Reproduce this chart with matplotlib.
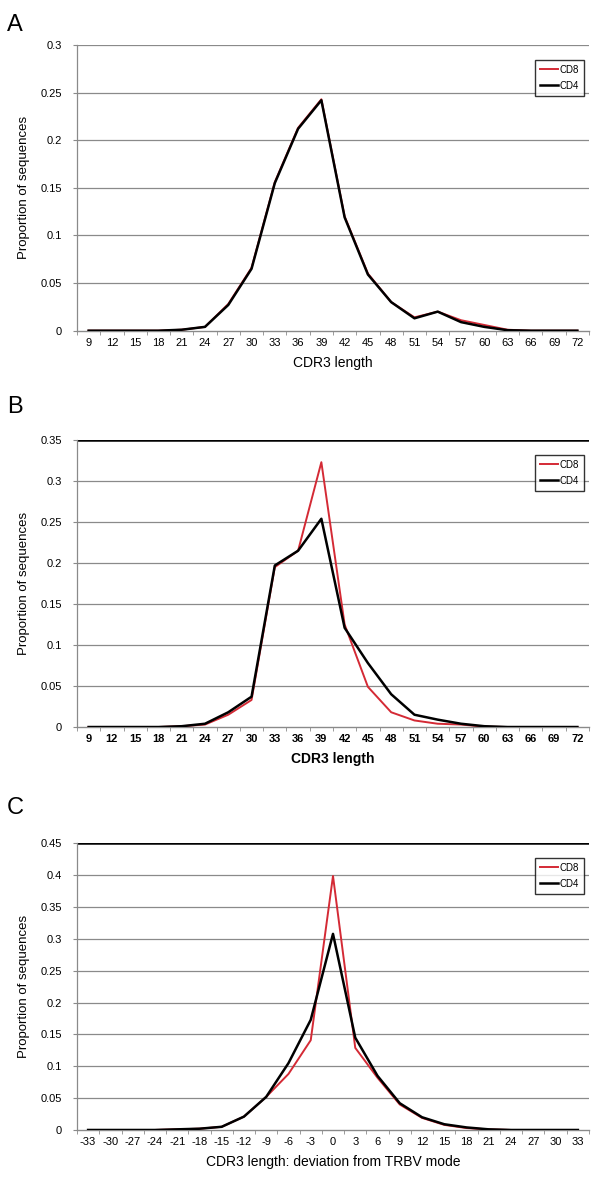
import numpy as np
import matplotlib
matplotlib.use("Agg")
import matplotlib.pyplot as plt

plt.rcParams['font.family'] = ['Liberation Sans', 'DejaVu Sans']

# panel A / B x categories (CDR3 length)
lengths = list(range(9, 73, 3))
# panel C x categories (deviation from TRBV mode)
deviation = list(range(-33, 34, 3))

a_cd8 = [0, 0, 0, 0, 0.001, 0.004, 0.028, 0.066, 0.156, 0.213, 0.243, 0.12,
         0.06, 0.03, 0.014, 0.02, 0.011, 0.006, 0.001, 0, 0, 0]
a_cd4 = [0, 0, 0, 0, 0.001, 0.004, 0.027, 0.065, 0.155, 0.212, 0.242, 0.119,
         0.059, 0.03, 0.013, 0.02, 0.009, 0.004, 0.0005, 0, 0, 0]

b_cd8 = [0, 0, 0, 0, 0.001, 0.003, 0.015, 0.033, 0.195, 0.215, 0.323, 0.125,
         0.049, 0.018, 0.008, 0.004, 0.003, 0.0005, 0, 0, 0, 0]
b_cd4 = [0, 0, 0, 0, 0.001, 0.004, 0.018, 0.037, 0.197, 0.215, 0.254, 0.121,
         0.078, 0.04, 0.015, 0.009, 0.004, 0.001, 0, 0, 0, 0]

c_cd8 = [0, 0, 0, 0, 0.001, 0.002, 0.005, 0.021, 0.052, 0.088, 0.141, 0.399,
         0.129, 0.082, 0.04, 0.019, 0.008, 0.003, 0.001, 0, 0, 0, 0]
c_cd4 = [0, 0, 0, 0, 0.001, 0.002, 0.005, 0.021, 0.052, 0.105, 0.173, 0.308,
         0.145, 0.085, 0.042, 0.02, 0.009, 0.004, 0.001, 0, 0, 0, 0]

panels = [
    dict(letter="A", cats=lengths, cd8=a_cd8, cd4=a_cd4, ymax=0.3,
         xlabel="CDR3 length", bold=False, topblack=False, labels=("CD8", "CD4"),
         rect=[0.1296, 0.72, 0.862, 0.2419], letter_y=1 - 25 / 1181,
         leg_top=1 - 60 / 1181),
    dict(letter="B", cats=lengths, cd8=b_cd8, cd4=b_cd4, ymax=0.35,
         xlabel="CDR3 length", bold=True, topblack=True, labels=("CD8", "CD4"),
         rect=[0.1296, 0.3844, 0.862, 0.2430], letter_y=1 - 407 / 1181,
         leg_top=1 - 455 / 1181),
    dict(letter="C", cats=deviation, cd8=c_cd8, cd4=c_cd4, ymax=0.45,
         xlabel="CDR3 length: deviation from TRBV mode", bold=False, topblack=True,
         labels=("CD8", "CD4"),
         rect=[0.1296, 0.0432, 0.862, 0.2426], letter_y=1 - 808 / 1181,
         leg_top=1 - 858 / 1181),
]

fig = plt.figure(figsize=(5.94, 11.81), dpi=100)

for p in panels:
    ax = fig.add_axes(p["rect"])
    n = len(p["cats"])
    x = np.arange(n)
    ax.plot(x, p["cd8"], color="#d42a35", lw=1.4, label=p["labels"][0], zorder=3)
    ax.plot(x, p["cd4"], color="black", lw=1.8, label=p["labels"][1], zorder=4)

    ax.set_xlim(-0.5, n - 0.5)
    ax.set_ylim(0, p["ymax"])
    yt = np.arange(0, p["ymax"] + 1e-9, 0.05)
    ax.set_yticks(yt)
    ax.set_yticklabels(["%g" % round(v, 2) for v in yt])
    for v in yt[1:]:
        if p["topblack"] and abs(v - p["ymax"]) < 1e-9:
            ax.axhline(v, color="black", lw=1.8, zorder=1)
        else:
            ax.axhline(v, color="#8a8a8a", lw=0.9, zorder=1)

    ax.set_xticks(x)
    ax.set_xticklabels([str(c) for c in p["cats"]])
    ax.set_xticks(np.arange(-0.5, n, 1), minor=True)
    ax.tick_params(axis="x", which="major", length=0, pad=5, labelsize=8)
    ax.tick_params(axis="x", which="minor", length=3, color="#8a8a8a", direction="out")
    ax.tick_params(axis="y", length=3, color="#8a8a8a", labelsize=8, pad=8)

    for side in ["top", "right"]:
        ax.spines[side].set_visible(False)
    ax.spines["left"].set_color("#8a8a8a")
    ax.spines["bottom"].set_color("#8a8a8a")
    ax.spines["left"].set_linewidth(0.9)
    ax.spines["bottom"].set_linewidth(1.0)

    weight = "bold" if p["bold"] else "normal"
    ax.set_xlabel(p["xlabel"], fontsize=10, fontweight=weight, labelpad=6)
    ax.set_ylabel("Proportion of sequences", fontsize=9.5, labelpad=7)
    if p["bold"]:
        for lab in ax.get_xticklabels():
            lab.set_fontweight("bold")

    fig.text(0.012, p["letter_y"], p["letter"], fontsize=17, va="center", ha="left")

    leg = ax.legend(loc="upper right", bbox_to_anchor=(0.983, p["leg_top"]),
                    bbox_transform=fig.transFigure, fontsize=7, frameon=True,
                    fancybox=False, handlelength=1.8, handletextpad=0.2,
                    borderpad=0.5, labelspacing=0.6, borderaxespad=0)
    leg.get_frame().set_edgecolor("black")
    leg.get_frame().set_linewidth(1.0)

fig.savefig("out.png", dpi=100)
